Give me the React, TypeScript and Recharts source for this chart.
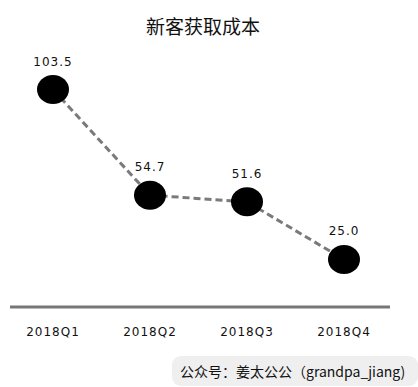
import React from 'react';
import { LineChart, Line, XAxis, YAxis, LabelList } from 'recharts';

const quarters = ['2018Q1', '2018Q2', '2018Q3', '2018Q4'];
const costs = [103.5, 54.7, 51.6, 25.0];

const data = quarters.map((q, i) => ({ q, cost: costs[i] }));

const BlobDot = (props: any) => {
  const { cx, cy } = props;
  if (cx == null || cy == null) return null;
  return <ellipse cx={cx} cy={cy} rx={16} ry={14.5} fill="#000" />;
};

export default function App() {
  return (
    <div style={{ position: 'absolute', left: 0, top: 0, width: 418, height: 387, background: '#fff' }}>
      <div
        style={{
          position: 'absolute',
          top: 12,
          left: 0,
          width: 406,
          textAlign: 'center',
          fontFamily: '"Noto Sans CJK SC", sans-serif',
          fontSize: 19,
          fontWeight: 400,
          color: '#111',
          lineHeight: '28px',
        }}
      >
        新客获取成本
      </div>
      <LineChart
        width={418}
        height={387}
        data={data}
        margin={{ top: 69, right: 28, bottom: 50, left: 10 }}
      >
        <XAxis
          dataKey="q"
          height={30}
          padding={{ left: 43, right: 46 }}
          axisLine={{ stroke: '#777', strokeWidth: 3 }}
          tickLine={false}
          tickMargin={14}
          tick={{ fill: '#111', fontSize: 12, fontFamily: '"DejaVu Sans", sans-serif', letterSpacing: 1 }}
        />
        <YAxis hide domain={[3, 113]} />
        <Line
          dataKey="cost"
          stroke="#7a7a7a"
          strokeWidth={3}
          strokeDasharray="7 4"
          dot={<BlobDot />}
          activeDot={false}
          isAnimationActive={false}
        >
          <LabelList
            dataKey="cost"
            position="top"
            offset={24}
            formatter={(v: any) => Number(v).toFixed(1)}
            style={{ fill: '#111', fontSize: 12, fontFamily: '"DejaVu Sans", sans-serif', letterSpacing: 1 }}
          />
        </Line>
      </LineChart>
      <div
        style={{
          position: 'absolute',
          left: 172,
          top: 356,
          width: 246,
          height: 30,
          background: '#efefef',
          borderRadius: 9,
          fontFamily: '"Noto Sans CJK SC", sans-serif',
          fontSize: 14,
          lineHeight: '30px',
          color: '#111',
          paddingLeft: 8,
          boxSizing: 'border-box',
          whiteSpace: 'nowrap',
        }}
      >
        公众号：姜太公公（grandpa_jiang)
      </div>
    </div>
  );
}
